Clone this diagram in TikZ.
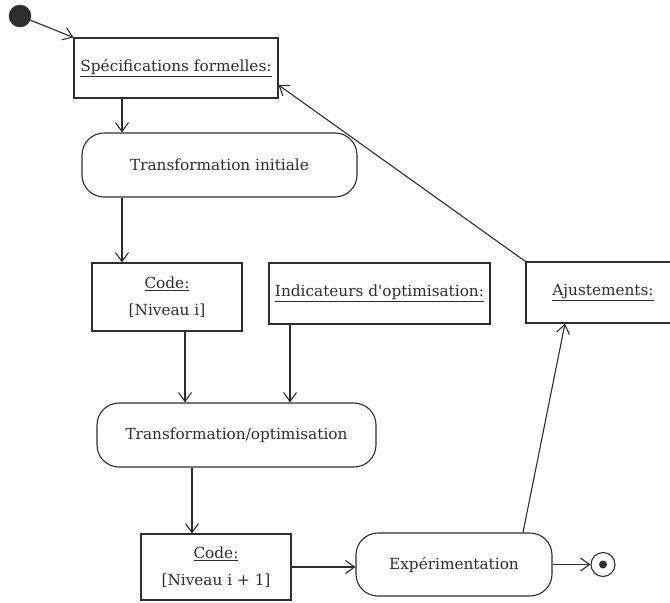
\documentclass[tikz,border=0pt]{standalone}
\usepackage{fontspec}
\setmainfont{DejaVu Serif}
\usetikzlibrary{arrows.meta}
\definecolor{ink}{HTML}{2E2E2E}
\begin{document}
\begin{tikzpicture}[x=1pt,y=-1pt,
  every node/.style={text=ink, font=\fontsize{15.3}{27}\selectfont},
  objbox/.style={draw=ink, line width=1.1pt, rectangle, inner sep=0pt, align=center},
  actbox/.style={draw=ink, line width=1.1pt, rectangle, rounded corners=22pt, inner sep=0pt, align=center},
  flow/.style={draw=ink, line width=1.1pt, -{Straight Barb[length=9pt,width=13pt,line width=1.1pt]}}
]
\useasboundingbox (0,0) rectangle (670,603);

% start and end states
\node[circle, fill=ink, draw=ink, minimum size=22pt, inner sep=0pt] (start) at (20,16) {};
\node[circle, draw=ink, line width=1.1pt, minimum size=24pt, inner sep=0pt] (stop) at (603,564.5) {};
\node[circle, fill=ink, minimum size=8pt, inner sep=0pt] (stopdot) at (stop) {};

% object boxes
\node[objbox, minimum width=204pt, minimum height=60pt] (spec) at (176,68) {\underline{Spécifications formelles:}};
\node[objbox, minimum width=150pt, minimum height=68pt] (codei) at (167,297) {\underline{Code:}\\{}[Niveau i]};
\node[objbox, minimum width=221pt, minimum height=61pt] (ind) at (379.5,293.5) {\underline{Indicateurs d\textquotesingle optimisation:}};
\node[objbox, minimum width=154pt, minimum height=61pt] (aju) at (603,292.5) {\underline{Ajustements:}};
\node[objbox, minimum width=150pt, minimum height=66pt] (codeii) at (216,567) {\underline{Code:}\\{}[Niveau i + 1]};

% activities
\node[actbox, minimum width=275pt, minimum height=64pt] (ti) at (219.5,165) {Transformation initiale};
\node[actbox, minimum width=279pt, minimum height=64pt] (to) at (236.5,435) {Transformation/optimisation};
\node[actbox, minimum width=196pt, minimum height=63pt] (exp) at (454,564.5) {Expérimentation};

% column helpers
\coordinate (colA) at (122,0);
\coordinate (colB) at (185,0);
\coordinate (colC) at (290,0);
\coordinate (colD) at (192,0);

% connectors
\draw[flow] (start) -- (spec.north west);
\draw[flow] (spec.south -| colA) -- (ti.north -| colA);
\draw[flow] (ti.south -| colA) -- (codei.north -| colA);
\draw[flow] (codei.south -| colB) -- (to.north -| colB);
\draw[flow] (ind.south -| colC) -- (to.north -| colC);
\draw[flow] (to.south -| colD) -- (codeii.north -| colD);
\draw[flow] (codeii.east) -- (codeii.east -| exp.west);
\draw[flow] (exp.east) -- (stop.west);
\draw[flow] ([xshift=69pt]exp.north) -- ([xshift=-38pt]aju.south);
\draw[flow] (aju.north west) -- ([yshift=-17pt]spec.east);
\end{tikzpicture}
\end{document}
